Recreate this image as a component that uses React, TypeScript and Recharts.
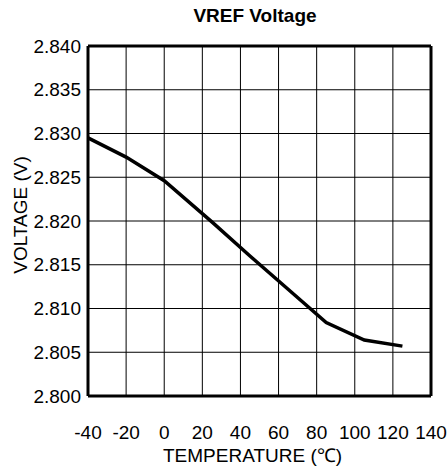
import React from 'react';
import { LineChart, Line, XAxis, YAxis, CartesianGrid, ReferenceLine } from 'recharts';

const temperatures = [-40, -20, 0, 25, 45, 65, 85, 105, 125];
const voltages = [2.8295, 2.8273, 2.8246, 2.8199, 2.816, 2.8122, 2.8084, 2.8064, 2.8057];
const xTicks = [-40, -20, 0, 20, 40, 60, 80, 100, 120, 140];
const yTicks = [2.8, 2.805, 2.81, 2.815, 2.82, 2.825, 2.83, 2.835, 2.84];
const title = 'VREF Voltage';
const xTitle = 'TEMPERATURE (℃)';
const yTitle = 'VOLTAGE (V)';

const data = temperatures.map((t, i) => ({ t, v: voltages[i] }));
const FONT = '"Liberation Sans", Arial, sans-serif';

const YLabel = (props: any) => {
  const vb = props.viewBox || {};
  const cy = vb.y + vb.height / 2 - 6;
  return (
    <text x={20} y={cy} transform={`rotate(-90, 20, ${cy})`} textAnchor="middle" dominantBaseline="central"
      fontFamily={FONT} fontSize={19} fill="#000">{yTitle}</text>
  );
};

const XLabel = (props: any) => {
  const vb = props.viewBox || {};
  const cx = vb.x + vb.width / 2 - 7;
  return (
    <text x={cx} y={462} textAnchor="middle" fontFamily={FONT} fontSize={19} fill="#000">{xTitle}</text>
  );
};

export default function App() {
  return (
    <div style={{ position: 'absolute', left: 0, top: 0, background: '#fff' }}>
      <LineChart width={447} height={471} data={data} margin={{ top: 46, right: 16, left: 0, bottom: 0 }}>
        <text x={255} y={22} textAnchor="middle" fontFamily={FONT} fontWeight="bold" fontSize={19} fill="#000">{title}</text>
        <CartesianGrid stroke="#000" strokeWidth={1} verticalValues={xTicks} horizontalValues={yTicks} />
        <XAxis dataKey="t" type="number" domain={[-40, 140]} ticks={xTicks} tickSize={0} tickMargin={30}
          height={75} axisLine={{ stroke: '#000', strokeWidth: 3 }} tickLine={false}
          tick={{ fill: '#000', fontSize: 19, fontFamily: FONT }}
          label={<XLabel />} />
        <YAxis type="number" domain={[2.8, 2.84]} ticks={yTicks} tickSize={0} tickMargin={7} width={88}
          interval={0} axisLine={{ stroke: '#000', strokeWidth: 3 }} tickLine={false}
          tickFormatter={(v: number) => v.toFixed(3)}
          tick={{ fill: '#000', fontSize: 19, fontFamily: FONT }}
          label={<YLabel />} />
        <ReferenceLine y={2.84} stroke="#000" strokeWidth={3} />
        <ReferenceLine x={140} stroke="#000" strokeWidth={3} />
        <Line dataKey="v" type="linear" stroke="#000" strokeWidth={3.5} dot={false} isAnimationActive={false} />
      </LineChart>
    </div>
  );
}
